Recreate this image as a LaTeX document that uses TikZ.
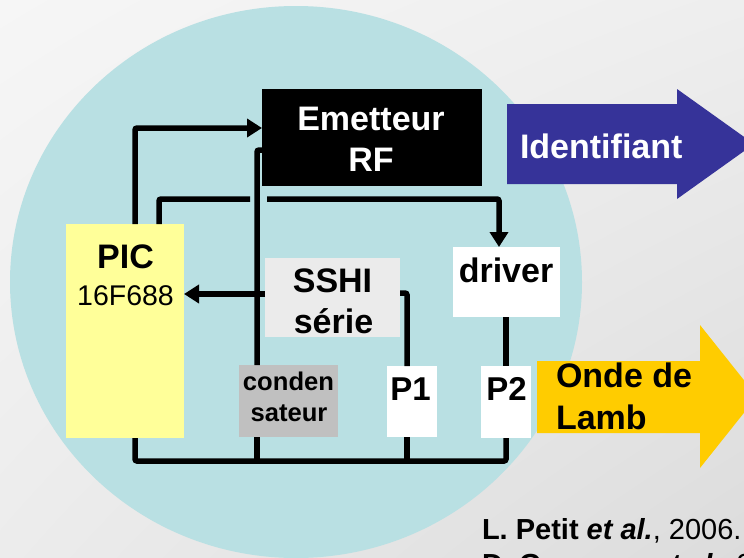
\documentclass[tikz,border=0pt]{standalone}
\usepackage{fontspec}
\setmainfont{Liberation Sans}
\usetikzlibrary{arrows.meta,calc,shadings}
\definecolor{bgUL}{RGB}{246,246,246}
\definecolor{bgUR}{RGB}{238,238,238}
\definecolor{bgLL}{RGB}{236,236,236}
\definecolor{bgLR}{RGB}{220,220,220}
\definecolor{ellcol}{RGB}{185,224,227}
\definecolor{picyellow}{RGB}{255,255,153}
\definecolor{sshigray}{RGB}{235,235,235}
\definecolor{condgray}{RGB}{192,192,192}
\definecolor{idblue}{RGB}{54,51,153}
\definecolor{lambyellow}{RGB}{255,204,0}
\begin{document}
\begin{tikzpicture}[x=1pt,y=-1pt,
  box/.style={rectangle, draw=none, inner sep=0pt, outer sep=0pt},
  lbl/.style={inner sep=0pt, outer sep=0pt, anchor=base, font=\fontsize{34}{41}\selectfont\bfseries},
  conn/.style={line width=5.5pt, draw=black, rounded corners=2pt},
  tip/.style={-{Triangle[length=15pt,width=18pt]}}]
\useasboundingbox (0,0) rectangle (744,557);
\clip (0,0) rectangle (744,557);
% background
\shade[upper left=bgUL, upper right=bgUR, lower left=bgLL, lower right=bgLR] (0,0) rectangle (744,557);
\fill[ellcol] (296,282) ellipse [x radius=286pt, y radius=276pt];

% big arrows
\fill[idblue] (507,104) -- (677,104) -- (677,89) -- (754,144) -- (677,199) -- (677,184) -- (507,184) -- cycle;
\fill[lambyellow] (537,361) -- (700,361) -- (700,325) -- (757,396.5) -- (700,468) -- (700,433) -- (537,433) -- cycle;
\node[lbl, anchor=base west, text=white] (ident) at (520,158) {Identifiant};
\node[lbl, anchor=base west] (onde1) at (556,387) {Onde de};
\node[lbl, anchor=base west] (onde2) at (556,429) {Lamb};

% boxes
\node[box, fill=black, minimum width=220pt, minimum height=97pt] (emit) at (372,137.5) {};
\node[box, fill=picyellow, minimum width=118pt, minimum height=214pt] (pic) at (125,331) {};
\node[box, fill=sshigray, minimum width=135pt, minimum height=79pt] (sshi) at (332.5,297.5) {};
\node[box, fill=white, minimum width=107pt, minimum height=70pt] (driver) at (506.5,282) {};
\node[box, fill=condgray, minimum width=99pt, minimum height=72pt] (cond) at (288.5,401) {};
\node[box, fill=white, minimum width=50pt, minimum height=71pt] (p1) at (412,401.5) {};
\node[box, fill=white, minimum width=50pt, minimum height=72pt] (p2) at (506,402) {};

% labels
\node[lbl, text=white] (emitA) at (371,130) {Emetteur};
\node[lbl, text=white] (emitB) at (371,171) {RF};
\node[lbl] (picA) at (125.5,268) {PIC};
\node[lbl, font=\fontsize{28.5}{34}\selectfont] (picB) at (125.5,305) {16F688};
\node[lbl] (sshiA) at (332.5,292) {SSHI};
\node[lbl] (sshiB) at (333.5,333) {série};
\node[lbl] (drvA) at (506,282) {driver};
\node[lbl, font=\fontsize{25.6}{31}\selectfont\bfseries] (condA) at (288.5,390) {conden};
\node[lbl, font=\fontsize{25.6}{31}\selectfont\bfseries] (condB) at (289,421) {sateur};
\node[lbl, font=\fontsize{33}{40}\selectfont\bfseries] (p1A) at (410.5,400) {P1};
\node[lbl, font=\fontsize{33}{40}\selectfont\bfseries] (p2A) at (506.5,400) {P2};

% citation
\node[lbl, anchor=base west, font=\fontsize{29}{35}\selectfont] (cite1) at (482,539)
  {\textbf{L. Petit \textit{et al.}}, 2006.};
\node[lbl, anchor=base west, font=\fontsize{29}{35}\selectfont] (cite2) at (482,574)
  {\textbf{D. Guyomar \textit{et al.}}, 2005.};

% helper coordinates
\coordinate (xA) at (135,0);
\coordinate (xB) at (159,0);
\coordinate (xC) at (257,0);
\coordinate (xD) at (499,0);
\coordinate (xE) at (407,0);
\coordinate (xF) at (506,0);
\coordinate (yA) at (0,128);
\coordinate (yC) at (0,150);
\coordinate (yD) at (0,294);
\coordinate (yE) at (0,293);
\coordinate (yBus) at (0,461);
\coordinate (gapL) at (250,199);
\coordinate (gapR) at (267,199);

% connectors
\draw[conn, tip] (pic.north -| xA) |- (emit.west |- yA);
\draw[conn] (pic.north -| xB) |- (gapL);
\draw[conn, tip] (gapR) -| (driver.north -| xD);
\draw[conn] (emit.west |- yC) -- (xC |- yC) -- (cond.north -| xC);
\draw[conn, tip] (sshi.west |- yD) -- (pic.east |- yD);
\fill (xC |- yD) circle (4pt);
\draw[conn] (sshi.east |- yE) -| (p1.north -| xE);
\draw[conn] (driver.south -| xF) -- (p2.north -| xF);
\draw[conn] (pic.south -| xA) |- (xF |- yBus) -- (p2.south -| xF);
\draw[conn] (cond.south -| xC) -- (xC |- yBus);
\draw[conn] (p1.south -| xE) -- (xE |- yBus);
\end{tikzpicture}
\end{document}
